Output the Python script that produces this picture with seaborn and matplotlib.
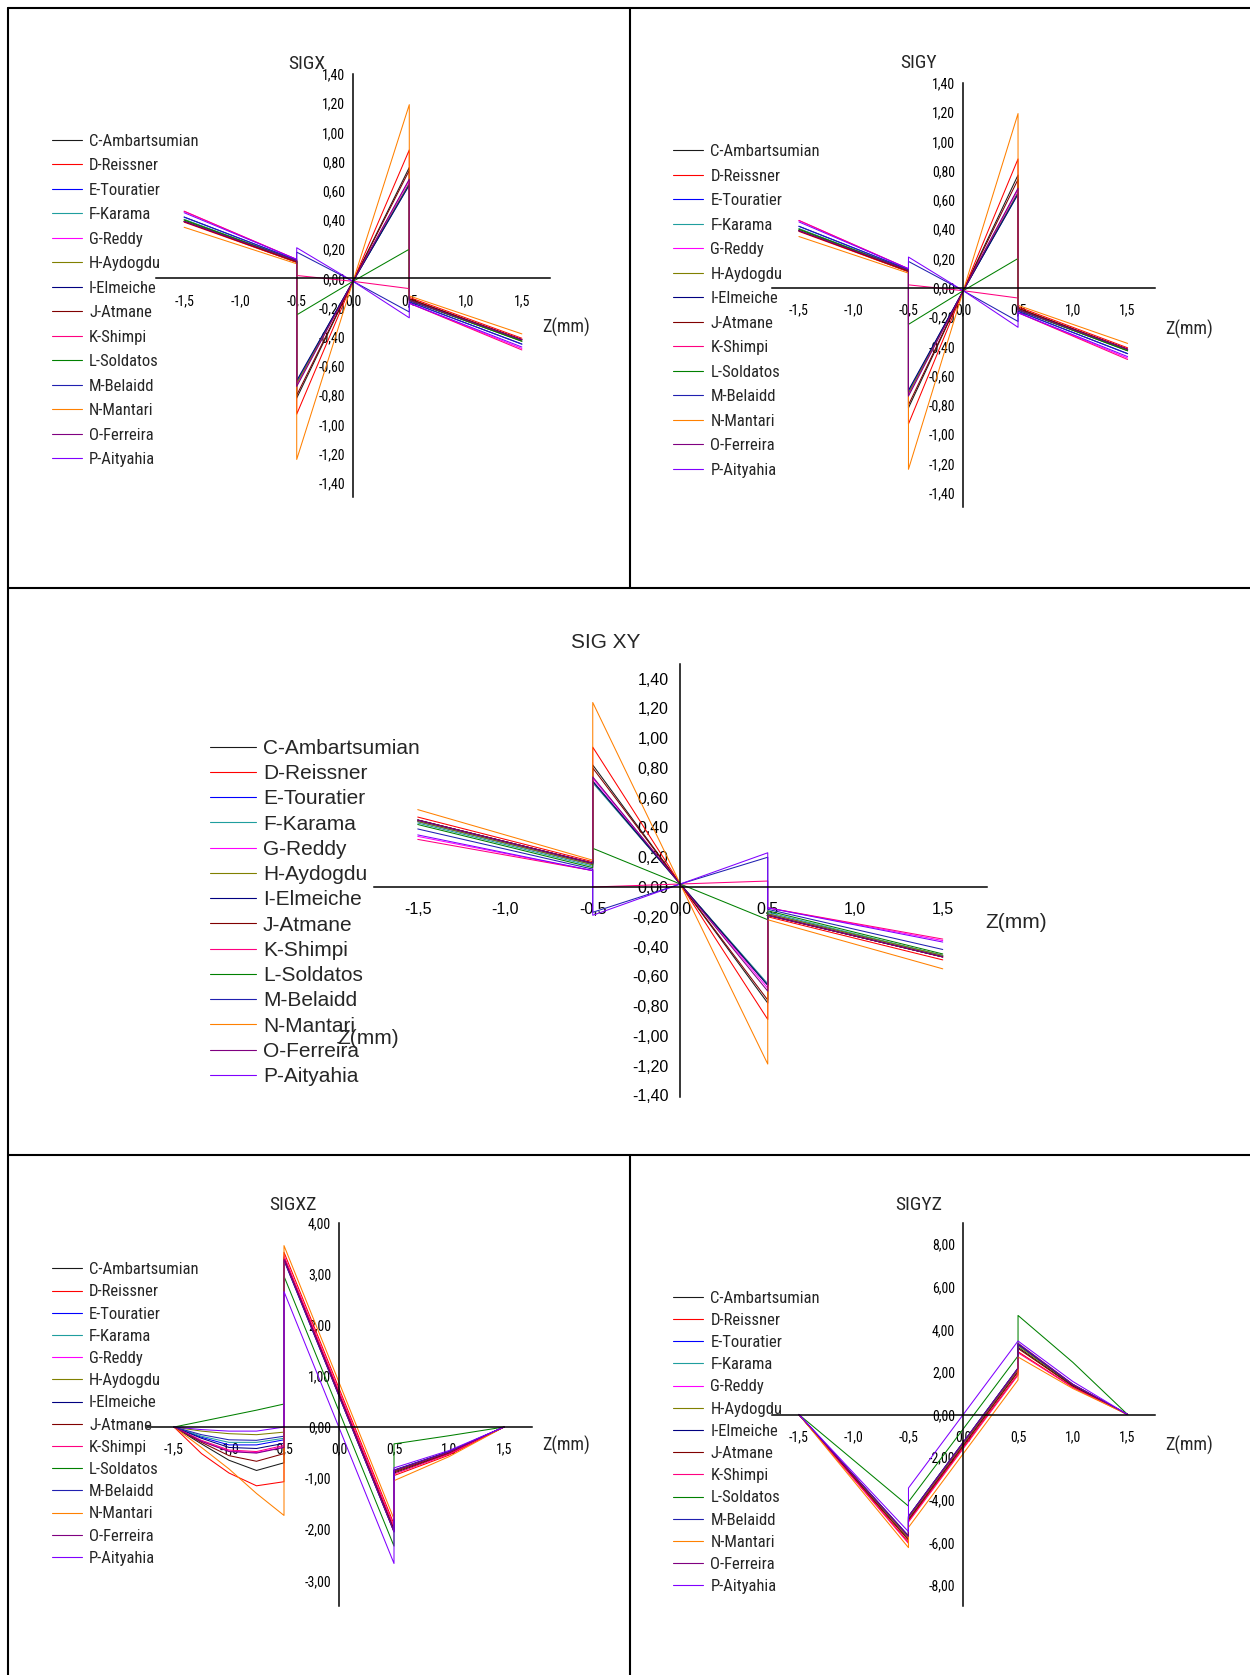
import pandas as pd
import matplotlib
matplotlib.use("Agg")
import matplotlib.pyplot as plt
import seaborn as sns
from matplotlib import font_manager
from matplotlib.lines import Line2D
from matplotlib.ticker import MultipleLocator

# ---- data ----
MODELS = ["C-Ambartsumian", "D-Reissner", "E-Touratier", "F-Karama", "G-Reddy",
          "H-Aydogdu", "I-Elmeiche", "J-Atmane", "K-Shimpi", "L-Soldatos",
          "M-Belaidd", "N-Mantari", "O-Ferreira", "P-Aityahia"]
COLORS = ["#1a1a1a", "#ff0000", "#0000ff", "#1f9e9e", "#ff00ff",
          "#808000", "#000080", "#800000", "#ff0080", "#008000",
          "#2020b0", "#ff8000", "#800080", "#8000ff"]

# z positions (mm), the interfaces at +-0.5 appear twice (stress jump)
Z_IN = [-1.5, -0.5, -0.5, 0.0, 0.5, 0.5, 1.5]
Z_XZ = [-1.5, -1.25, -1.0, -0.75, -0.5, -0.5, 0.5, 0.5, 1.0, 1.5]
Z_YZ = [-1.5, -0.5, -0.5, 0.5, 0.5, 1.0, 1.5]

SIGX = [
    [0.39, 0.11, -0.82, -0.02, 0.76, -0.14, -0.42],
    [0.385, 0.11, -0.93, -0.02, 0.88, -0.13, -0.41],
    [0.42, 0.125, -0.71, -0.02, 0.65, -0.16, -0.45],
    [0.405, 0.12, -0.71, -0.02, 0.64, -0.15, -0.43],
    [0.46, 0.13, -0.73, -0.02, 0.67, -0.17, -0.48],
    [0.40, 0.12, -0.72, -0.02, 0.65, -0.15, -0.43],
    [0.39, 0.12, -0.70, -0.02, 0.64, -0.15, -0.42],
    [0.39, 0.115, -0.80, -0.02, 0.74, -0.14, -0.42],
    [0.46, 0.13, 0.02, -0.02, -0.07, -0.17, -0.49],
    [0.40, 0.12, -0.25, -0.02, 0.20, -0.15, -0.43],
    [0.42, 0.125, 0.18, -0.02, -0.23, -0.16, -0.45],
    [0.35, 0.10, -1.24, -0.02, 1.19, -0.12, -0.38],
    [0.39, 0.12, -0.74, -0.02, 0.68, -0.15, -0.42],
    [0.45, 0.13, 0.21, -0.02, -0.27, -0.17, -0.47],
]
SIGY = [
    [0.39, 0.11, -0.82, -0.02, 0.77, -0.14, -0.42],
    [0.385, 0.11, -0.93, -0.02, 0.88, -0.13, -0.41],
    [0.42, 0.125, -0.71, -0.02, 0.65, -0.16, -0.45],
    [0.405, 0.12, -0.71, -0.02, 0.64, -0.15, -0.43],
    [0.46, 0.13, -0.73, -0.02, 0.67, -0.17, -0.48],
    [0.40, 0.12, -0.72, -0.02, 0.65, -0.15, -0.43],
    [0.39, 0.12, -0.70, -0.02, 0.64, -0.15, -0.42],
    [0.39, 0.115, -0.80, -0.02, 0.74, -0.14, -0.42],
    [0.46, 0.13, 0.02, -0.02, -0.07, -0.17, -0.49],
    [0.40, 0.12, -0.25, -0.02, 0.20, -0.15, -0.43],
    [0.42, 0.125, 0.18, -0.02, -0.23, -0.16, -0.45],
    [0.35, 0.10, -1.24, -0.02, 1.19, -0.12, -0.38],
    [0.39, 0.12, -0.74, -0.02, 0.68, -0.15, -0.42],
    [0.45, 0.13, 0.21, -0.02, -0.27, -0.17, -0.47],
]
SIGXY = [
    [0.45, 0.16, 0.82, 0.02, -0.78, -0.19, -0.47],
    [0.47, 0.17, 0.94, 0.02, -0.89, -0.20, -0.49],
    [0.44, 0.15, 0.71, 0.02, -0.66, -0.18, -0.46],
    [0.43, 0.14, 0.70, 0.02, -0.65, -0.17, -0.46],
    [0.34, 0.11, 0.73, 0.02, -0.68, -0.14, -0.36],
    [0.44, 0.15, 0.71, 0.02, -0.66, -0.18, -0.46],
    [0.45, 0.16, 0.71, 0.02, -0.66, -0.19, -0.47],
    [0.45, 0.16, 0.80, 0.02, -0.76, -0.19, -0.47],
    [0.32, 0.11, 0.00, 0.02, 0.04, -0.14, -0.35],
    [0.42, 0.13, 0.26, 0.02, -0.22, -0.16, -0.45],
    [0.39, 0.12, -0.17, 0.02, 0.20, -0.15, -0.42],
    [0.52, 0.18, 1.24, 0.02, -1.19, -0.22, -0.55],
    [0.45, 0.16, 0.74, 0.02, -0.70, -0.19, -0.47],
    [0.35, 0.11, -0.19, 0.02, 0.23, -0.14, -0.37],
]
SIGXZ = [
    [0, -0.33, -0.65, -0.85, -0.70, 3.30, -2.00, -0.90, -0.52, 0],
    [0, -0.52, -0.90, -1.15, -1.07, 3.42, -1.90, -0.95, -0.55, 0],
    [0, -0.20, -0.35, -0.35, -0.25, 3.30, -2.02, -0.85, -0.49, 0],
    [0, -0.18, -0.30, -0.30, -0.22, 3.28, -2.02, -0.86, -0.49, 0],
    [0, -0.28, -0.47, -0.50, -0.39, 3.32, -2.02, -0.86, -0.50, 0],
    [0, -0.08, -0.13, -0.15, -0.10, 3.30, -2.02, -0.86, -0.49, 0],
    [0, -0.22, -0.40, -0.42, -0.32, 3.28, -2.05, -0.85, -0.48, 0],
    [0, -0.30, -0.56, -0.67, -0.52, 3.32, -2.00, -0.88, -0.51, 0],
    [0, -0.26, -0.45, -0.48, -0.36, 3.35, -1.95, -0.92, -0.53, 0],
    [0, 0.11, 0.22, 0.33, 0.45, 2.95, -2.33, -0.33, -0.17, 0],
    [0, -0.15, -0.25, -0.26, -0.18, 3.26, -2.05, -0.84, -0.48, 0],
    [0, -0.40, -0.82, -1.30, -1.73, 3.55, -1.80, -1.05, -0.58, 0],
    [0, -0.28, -0.48, -0.51, -0.40, 3.28, -2.05, -0.85, -0.49, 0],
    [0, -0.05, -0.08, -0.08, 0.00, 2.65, -2.67, -0.80, -0.46, 0],
]
SIGYZ = [
    [0, -5.85, -4.90, 2.05, 3.15, 1.35, 0],
    [0, -6.00, -5.00, 1.90, 2.95, 1.28, 0],
    [0, -5.75, -4.80, 2.15, 3.28, 1.40, 0],
    [0, -5.75, -4.82, 2.12, 3.25, 1.40, 0],
    [0, -5.80, -4.85, 2.10, 3.30, 1.40, 0],
    [0, -5.80, -4.85, 2.10, 3.22, 1.38, 0],
    [0, -5.70, -4.78, 2.18, 3.30, 1.40, 0],
    [0, -5.90, -4.95, 2.00, 3.10, 1.33, 0],
    [0, -6.05, -5.05, 1.85, 2.90, 1.27, 0],
    [0, -4.30, -4.10, 2.75, 4.65, 2.45, 0],
    [0, -5.70, -4.78, 2.18, 3.32, 1.42, 0],
    [0, -6.25, -5.30, 1.62, 2.70, 1.22, 0],
    [0, -5.72, -4.80, 2.17, 3.35, 1.42, 0],
    [0, -5.50, -3.45, 3.45, 3.45, 1.55, 0],
]

# ---- fonts ----
sns.set_style("white")
names = {f.name for f in font_manager.fontManager.ttflist}
NARROW, SQ = "Liberation Sans", 0.85
for cand in ["Liberation Sans Narrow", "Arial Narrow", "Roboto Condensed", "Open Sans Condensed"]:
    if cand in names:
        NARROW, SQ = cand, 1.0
        break
plt.rcParams["font.family"] = [NARROW, "DejaVu Sans"]
WIDE = ["Liberation Sans", "DejaVu Sans"]

W, H = 1250, 1675
fig = plt.figure(figsize=(W / 100, H / 100), dpi=100)
PALETTE = dict(zip(MODELS, COLORS))


def long_df(z, rows):
    recs = []
    for name, vals in zip(MODELS, rows):
        for zi, v in zip(z, vals):
            recs.append((name, zi, v))
    return pd.DataFrame(recs, columns=["model", "z", "sig"])


def fmt(v, nd):
    if abs(v) < 1e-9:
        v = 0.0
    return f"{v:.{nd}f}".replace(".", ",")


def ftext(x, y, s, **kw):
    fig.text(x / W, 1 - y / H, s, ha="center", va="center", **kw)


def panel(box, z, rows, ylim, ystep, leg, wide=False):
    x0, x1, y0, y1 = box
    ax = fig.add_axes([x0 / W, 1 - y1 / H, (x1 - x0) / W, (y1 - y0) / H])
    ax.set_facecolor("none")
    sns.lineplot(data=long_df(z, rows), x="z", y="sig", hue="model", hue_order=MODELS,
                 palette=PALETTE, estimator=None, sort=False, lw=0.75, legend=False, ax=ax)
    ax.set_xlim(-1.75, 1.75)
    ax.set_ylim(*ylim)
    ax.set_xlabel("")
    ax.set_ylabel("")
    for s in ("top", "right"):
        ax.spines[s].set_visible(False)
    for s in ("left", "bottom"):
        ax.spines[s].set_position(("data", 0))
        ax.spines[s].set_linewidth(1.1)
        ax.spines[s].set_color("black")

    fam = WIDE if wide else [NARROW, "DejaVu Sans"]
    tsize = 11.5 if wide else 10 * SQ
    xt = [-1.5, -1.0, -0.5, 0.0, 0.5, 1.0, 1.5]
    ax.set_xticks(xt, labels=[fmt(v, 1) for v in xt], fontsize=tsize, family=fam)
    n = int(round(max(abs(ylim[0]), abs(ylim[1])) / ystep))
    yt = [k * ystep for k in range(-n, n + 1) if ylim[0] - 1e-9 <= k * ystep <= ylim[1] + 1e-9]
    ax.set_yticks(yt, labels=[fmt(v, 2) for v in yt], fontsize=tsize, family=fam)
    ax.xaxis.set_minor_locator(MultipleLocator(0.25))
    ax.yaxis.set_minor_locator(MultipleLocator(ystep / 2))
    ymaj = 7 if wide else 4.3
    ax.tick_params(axis="x", which="both", direction="out", length=4.3, width=1.0,
                   pad=6.5 if wide else 7, colors="black")
    ax.tick_params(axis="y", which="major", direction="out", length=ymaj, width=1.0,
                   pad=1.5, colors="black")
    ax.tick_params(axis="y", which="minor", direction="out", length=ymaj * 0.65, width=1.0,
                   colors="black")

    lx, ly, pitch = leg
    lsize = 15 if wide else 12 * SQ
    fs_px = lsize * 100 / 72
    handles = [Line2D([], [], color=c, lw=0.8) for c in COLORS]
    ax.legend(handles, MODELS, loc="center left", bbox_to_anchor=(lx / W, 1 - ly / H),
              bbox_transform=fig.transFigure, frameon=False, borderpad=0, borderaxespad=0,
              handlelength=(46 if wide else 30) / fs_px, handletextpad=7 / fs_px,
              labelspacing=max(pitch - 0.9 * fs_px, 0) / fs_px,
              prop={"family": fam, "size": lsize})
    return ax


# top row: SIGX, SIGY
panel((156, 550, 74, 497.4), Z_IN, SIGX, (-1.5, 1.4), 0.2, (52, 300.5, 24.5))
ftext(307, 64, "SIGX", fontsize=14 * SQ)
ftext(566, 327, "Z(mm)", fontsize=13 * SQ)

panel((771.5, 1155, 82.8, 507.4), Z_IN, SIGY, (-1.5, 1.4), 0.2, (673.5, 311, 24.5))
ftext(919, 63, "SIGY", fontsize=14 * SQ)
ftext(1189, 329, "Z(mm)", fontsize=13 * SQ)

# middle row: SIG XY
panel((374, 986.5, 663.8, 1096.8), Z_IN, SIGXY, (-1.41, 1.5), 0.2, (210, 912.5, 25), wide=True)
ftext(606, 643, "SIG XY", fontsize=15, family=WIDE)
ftext(1016, 922, "Z(mm)", fontsize=15, family=WIDE)
ftext(368, 1038, "Z(mm)", fontsize=15, family=WIDE)

# bottom row: SIGXZ, SIGYZ
panel((146.5, 531.5, 1222.6, 1605.9), Z_XZ, SIGXZ, (-3.5, 4.0), 1.0, (52, 1414, 22.2))
ftext(293, 1205, "SIGXZ", fontsize=14 * SQ)
ftext(566, 1445, "Z(mm)", fontsize=13 * SQ)

panel((771.5, 1155, 1222.8, 1606.2), Z_YZ, SIGYZ, (-9, 9), 2.0, (673.5, 1442.5, 22.2))
ftext(918.6, 1204.6, "SIGYZ", fontsize=14 * SQ)
ftext(1189, 1445, "Z(mm)", fontsize=13 * SQ)

# cell borders of the layout table
for (xa, ya, xb, yb) in [(8, 8, 1250, 8), (8, 8, 8, 1675), (8, 588, 1250, 588),
                         (8, 1155, 1250, 1155), (630, 8, 630, 588), (630, 1155, 630, 1675)]:
    fig.add_artist(Line2D([xa / W, xb / W], [1 - ya / H, 1 - yb / H],
                          transform=fig.transFigure, color="black", lw=1.5))

fig.savefig("out.png", dpi=100)
